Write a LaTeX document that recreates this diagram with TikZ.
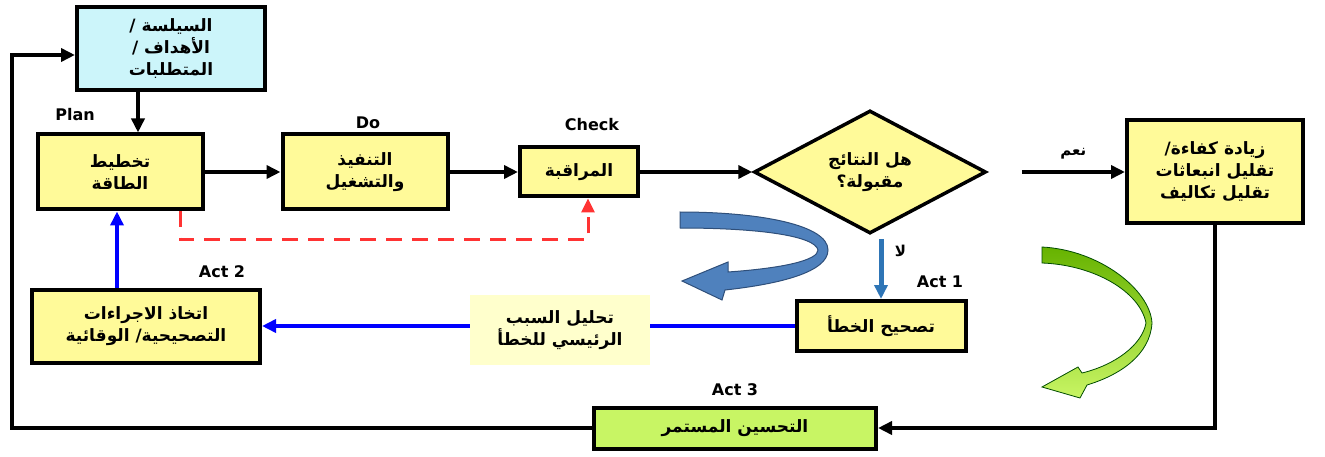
\documentclass[tikz,border=0pt]{standalone}
\usepackage{fontspec}
\setmainfont{DejaVu Sans}
\newfontfamily\arabicfont[Script=Arabic]{DejaVu Sans}
\TeXXeTstate=1
\usetikzlibrary{arrows.meta,shapes.geometric}
\tikzset{>={Triangle[length=14pt,width=13pt]}}
\colorlet{boxYellow}{yellow!40}
\definecolor{boxCyan}{HTML}{CCF5FA}
\definecolor{boxGreen}{HTML}{C8F564}
\definecolor{noteYellow}{HTML}{FFFFCC}
\definecolor{stepBlue}{HTML}{2E75B6}
\definecolor{swirlBlue}{HTML}{4F81BD}
\definecolor{swirlEdge}{HTML}{2F4F7A}
\definecolor{dashRed}{HTML}{FF3333}
\newcommand{\artext}[1]{{\arabicfont\bfseries\beginR #1\endR}}
\tikzset{
  box/.style={draw, line width=4pt, fill=boxYellow, align=center, inner sep=2pt,
    font=\fontsize{17}{22}\selectfont},
  tag/.style={font=\bfseries\fontsize{16}{18}\selectfont},
  flow/.style={line width=3.5pt, ->},
  fixline/.style={line width=3.5pt, blue, ->}
}

\begin{document}
\begin{tikzpicture}[x=1pt,y=-1pt]
\useasboundingbox (0,0) rectangle (1325,457);
% top row
\node[box, fill=boxCyan, minimum width=188pt, minimum height=83pt] (goals) at (171,49)
  {\artext{السيلسة /}\\ \artext{الأهداف /}\\ \artext{المتطلبات}};
\node[box, minimum width=165pt, minimum height=75pt] (plan) at (120,172)
  {\artext{تخطيط}\\ \artext{الطاقة}};
\node[box, minimum width=165pt, minimum height=75pt] (do) at (365,172)
  {\artext{التنفيذ}\\ \artext{والتشغيل}};
\node[box, minimum width=118pt, minimum height=49pt] (check) at (579,172)
  {\artext{المراقبة}};
\node[box, diamond, line width=3.5pt, minimum width=232pt, minimum height=122pt, inner sep=0pt] (results) at (870,172)
  {\artext{هل النتائج}\\ \artext{مقبولة؟}};
\node[box, minimum width=176pt, minimum height=103pt] (gains) at (1215,172)
  {\artext{زيادة كفاءة/}\\ \artext{تقليل انبعاثات}\\ \artext{تقليل تكاليف}};
% act boxes
\node[box, minimum width=169pt, minimum height=50pt] (act1) at (881,326)
  {\artext{تصحيح الخطأ}};
\node[box, minimum width=228pt, minimum height=73pt] (act2) at (146,326)
  {\artext{اتخاذ الاجراءات}\\ \artext{التصحيحية/ الوقائية}};
\node[box, fill=boxGreen, minimum width=282pt, minimum height=41pt] (act3) at (735,428)
  {\artext{التحسين المستمر}};

\node[tag] at (75,115) {Plan};
\node[tag] at (368,123) {Do};
\node[tag] at (592,125) {Check};
\node[tag] at (940,282) {Act 1};
\node[tag] at (222,272) {Act 2};
\node[tag] at (735,390) {Act 3};

% main flow
\draw[flow] ([xshift=-33pt]goals.south) -- ([xshift=-33pt]goals.south |- plan.north);
\draw[flow] (plan.east) -- (do.west);
\draw[flow] (do.east) -- (check.west);
\draw[flow] (check.east) -- (results.west);
\draw[flow] ([xshift=34pt]results.east) -- node[above=8pt, font=\fontsize{15}{17}\selectfont] {\artext{نعم}} (gains.west);
\draw[line width=5pt, stepBlue, ->] ([yshift=-4pt]act1.north |- results.south) -- node[right=8pt, pos=0.2, black, font=\fontsize{15}{17}\selectfont] {\artext{لا}} (act1.north);
\draw[flow] (gains.south) |- (act3.east);
\draw[flow] (act3.west) -- ++(-580,0) |- ([yshift=-6pt]goals.west);

% corrective loop
\draw[fixline] (act1.west) -- (act2.east);
\node[fill=noteYellow, minimum width=180pt, minimum height=70pt, align=center,
  font=\fontsize{17}{22}\selectfont] (cause) at (560,330)
  {\artext{تحليل السبب}\\ \artext{الرئيسي للخطأ}};
\draw[fixline] ([xshift=-29pt]act2.north) -- ([xshift=-29pt]act2.north |- plan.south);
\draw[dashRed, line width=3pt, dash pattern=on 16pt off 10pt, ->] ([xshift=60pt]plan.south) -- ++(0,28) -| ([xshift=9pt]check.south);

% swirl arrows
\draw[swirlEdge, fill=swirlBlue, line width=1pt]
  (680,212) .. controls (760,212) and (828,225) .. (828,250)
  .. controls (828,272) and (780,284) .. (725,290) -- (722,300) -- (682,281) -- (728,262) -- (728,272)
  .. controls (785,268) and (818,260) .. (818,250)
  .. controls (815,236) and (760,228) .. (680,228) -- cycle;
\draw[black!70!green, top color=green!50!black!60!yellow, bottom color=boxGreen, line width=0.8pt]
  (1042,247) .. controls (1100,250) and (1150,290) .. (1152,323)
  .. controls (1150,355) and (1120,375) .. (1087,385) -- (1080,398) -- (1042,387) -- (1078,367) -- (1082,373)
  .. controls (1115,365) and (1142,345) .. (1146,323)
  .. controls (1140,292) and (1095,265) .. (1042,263) -- cycle;
\end{tikzpicture}
\end{document}
